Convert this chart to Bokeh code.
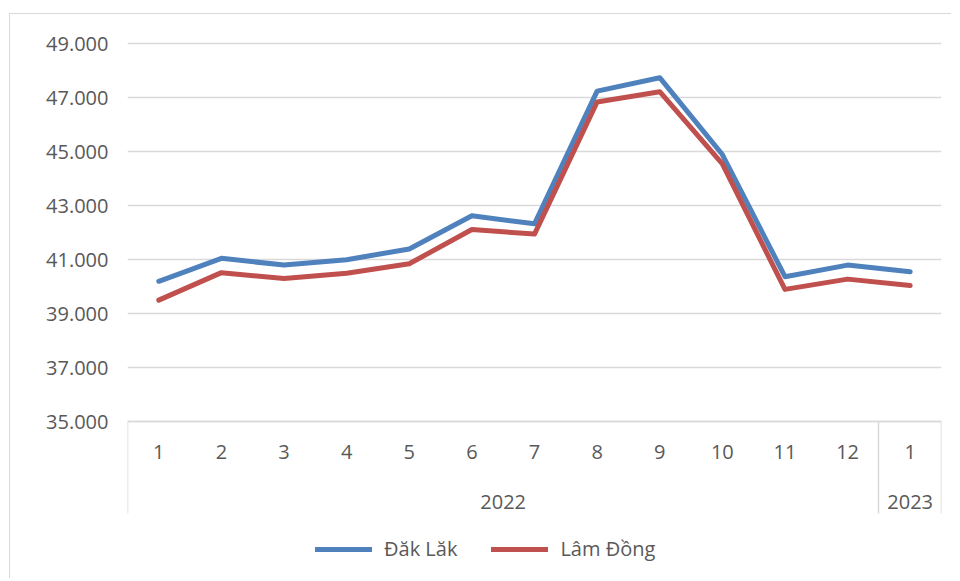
from bokeh.plotting import figure
from bokeh.models import (Range1d, LinearAxis, FixedTicker, Legend, LegendItem, ColumnDataSource)
from bokeh.embed import file_html
from bokeh.resources import INLINE

# ---- data ----
years = ["2022"] * 12 + ["2023"]
months = ["1", "2", "3", "4", "5", "6", "7", "8", "9", "10", "11", "12", "1"]
dak_lak = [40200, 41050, 40800, 41000, 41400, 42630, 42330, 47250, 47750, 44900, 40370, 40800, 40550]
lam_dong = [39500, 40520, 40300, 40500, 40850, 42120, 41950, 46850, 47230, 44550, 39900, 40280, 40040]
series_names = ["Đăk Lăk", "Lâm Đồng"]
y_ticks = [35000, 37000, 39000, 41000, 43000, 45000, 47000, 49000]
y_tick_labels = ["35.000", "37.000", "39.000", "41.000", "43.000", "45.000", "47.000", "49.000"]
year_labels = ["2022", "2023"]

FONT = "Open Sans"
TXT = "#595959"
GRID = "#d9d9d9"
BLUE = "#4F81BD"
RED = "#C0504D"

n = len(months)
pos = [i + 0.5 for i in range(n)]          # category slot centres
src = ColumnDataSource(dict(pos=pos, dak=dak_lak, lam=lam_dong))

# plot area: value axis 35.000-49.500 over 391 px; frame extended below to hold the
# category rows and legend (axes pinned at 35.000)
Y_MIN, Y_TOP = 35000, 49500
PLOT_PX, FRAME_PX = 391, 548
y_start = Y_TOP - (Y_TOP - Y_MIN) * FRAME_PX / PLOT_PX

p = figure(
    x_range=Range1d(0, n),
    y_range=Range1d(y_start, Y_TOP),
    x_axis_location=None,
    frame_width=814, frame_height=FRAME_PX,
    min_border_left=117, min_border_right=10, min_border_top=16, min_border_bottom=0,
    output_backend="svg", toolbar_location=None,
)
p.styles = {"border-top": "1px solid #d9d9d9", "border-left": "1px solid #d9d9d9",
            "margin-top": "13px", "margin-left": "9px"}
p.outline_line_color = None
p.background_fill_color = "white"
p.border_fill_color = "white"

# y axis
yt = FixedTicker(ticks=y_ticks)
p.yaxis.ticker = yt
p.yaxis.major_label_overrides = dict(zip(y_ticks, y_tick_labels))
p.yaxis.axis_line_color = None
p.yaxis.major_tick_line_color = None
p.yaxis.minor_tick_line_color = None
p.yaxis.major_label_standoff = 13
p.yaxis.major_label_text_font = FONT
p.yaxis.major_label_text_font_size = "20px"
p.yaxis.major_label_text_color = TXT

p.ygrid.ticker = yt
p.ygrid.grid_line_color = GRID
p.ygrid.grid_line_width = 1.5
p.xgrid.visible = False

n2022 = years.count("2022")

# month row: labels at slot centres, long minor ticks act as group separators
month_axis = LinearAxis(
    ticker=FixedTicker(ticks=pos, minor_ticks=[0, n2022, n]),
    major_label_overrides={c: m for c, m in zip(pos, months)},
    fixed_location=Y_MIN,
)
month_axis.axis_line_color = GRID
month_axis.axis_line_width = 1.5
month_axis.major_tick_out = 0
month_axis.major_tick_in = 0
month_axis.minor_tick_in = 0
month_axis.minor_tick_out = 92
month_axis.minor_tick_line_color = GRID
month_axis.minor_tick_line_width = 1.5
month_axis.major_label_standoff = -69
month_axis.major_label_text_font = FONT
month_axis.major_label_text_font_size = "20px"
month_axis.major_label_text_color = TXT
p.add_layout(month_axis, "below")

# year row
year_pos = [n2022 / 2, n2022 + (n - n2022) / 2]
year_axis = LinearAxis(
    ticker=FixedTicker(ticks=year_pos, minor_ticks=[]),
    major_label_overrides=dict(zip(year_pos, year_labels)),
    fixed_location=Y_MIN,
)
year_axis.axis_line_color = None
year_axis.major_tick_line_color = None
year_axis.minor_tick_line_color = None
year_axis.major_label_standoff = 67
year_axis.major_label_text_font = FONT
year_axis.major_label_text_font_size = "20px"
year_axis.major_label_text_color = TXT
p.add_layout(year_axis, "below")

r1 = p.line(x="pos", y="dak", source=src, line_color=BLUE, line_width=5, line_join="round", line_cap="round")
r2 = p.line(x="pos", y="lam", source=src, line_color=RED, line_width=5, line_join="round", line_cap="round")

legend = Legend(
    items=[LegendItem(label=series_names[0], renderers=[r1]),
           LegendItem(label=series_names[1], renderers=[r2])],
    orientation="horizontal",
    location=(188, 16),
    glyph_width=57, glyph_height=24,
    label_standoff=12, spacing=34, padding=0, margin=0,
    border_line_color=None, background_fill_alpha=0,
    label_text_font=FONT, label_text_font_size="20px", label_text_color=TXT,
)
p.add_layout(legend, "center")

open("out.html", "w").write(file_html(p, INLINE))
